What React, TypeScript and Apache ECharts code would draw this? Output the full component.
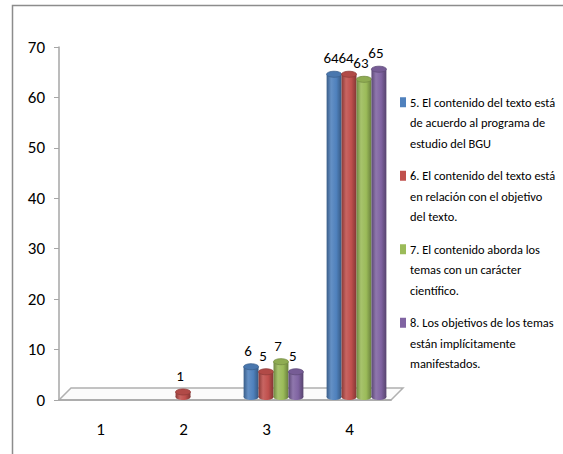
import React, { useEffect, useRef } from "react";
import * as echarts from "echarts";

const categories = ["1", "2", "3", "4"];
const seriesNames = [
  "5. El contenido del texto está de acuerdo al programa de estudio del BGU",
  "6. El contenido del texto está en relación con el objetivo del texto.",
  "7. El contenido aborda los temas con un carácter científico.",
  "8. Los objetivos de los temas están implícitamente manifestados.",
];
const legendLines = [
  ["5. El contenido del texto está", "de acuerdo al programa de", "estudio del BGU"],
  ["6. El contenido del texto está", "en relación con el objetivo", "del texto."],
  ["7. El contenido aborda los", "temas con un carácter", "científico."],
  ["8. Los objetivos de los temas", "están implícitamente", "manifestados."],
];
const s5 = [null, null, 6, 64];
const s6 = [null, 1, 5, 64];
const s7 = [null, null, 7, 63];
const s8 = [null, null, 5, 65];
const seriesValues = [s5, s6, s7, s8];
const colors = ["#4F81BD", "#C0504D", "#9BBB59", "#8064A2"];
const yTicks = { min: 0, max: 70, interval: 10 };

const FONT = "Carlito, 'Open Sans', sans-serif";

function shade(hex: string, f: number) {
  const n = parseInt(hex.slice(1), 16);
  let r = (n >> 16) & 255, g = (n >> 8) & 255, b = n & 255;
  const adj = (c: number) =>
    f >= 1 ? Math.round(c + (255 - c) * (f - 1)) : Math.round(c * f);
  r = adj(r); g = adj(g); b = adj(b);
  return `rgb(${r},${g},${b})`;
}

function makeBarSeries(idx: number) {
  const color = colors[idx];
  const data = seriesValues[idx]
    .map((v, i) => (v === null ? null : [i, v]))
    .filter((d) => d !== null);
  return {
    type: "custom",
    name: seriesNames[idx],
    z: 3,
    data,
    encode: { x: 0, y: 1 },
    itemStyle: { color },
    renderItem: (params: any, api: any) => {
      const cat = api.value(0);
      const val = api.value(1);
      const base = api.coord([cat, 0]);
      const top = api.coord([cat, val]);
      const catW = api.size([1, 0])[0];
      const bw = catW * 0.18;
      const dx = 7;
      const dy = -3;
      const x0 = base[0] - 2 * bw + idx * bw + dx;
      const yb = base[1] + dy;
      const yt = top[1] + dy;
      const ry = 3;
      const cx = x0 + bw / 2;
      const grad = new echarts.graphic.LinearGradient(0, 0, 1, 0, [
        { offset: 0, color: shade(color, 0.72) },
        { offset: 0.3, color: shade(color, 1.12) },
        { offset: 0.65, color: color },
        { offset: 1, color: shade(color, 0.68) },
      ]);
      return {
        type: "group",
        children: [
          {
            type: "ellipse",
            shape: { cx, cy: yb, rx: bw / 2, ry },
            style: { fill: grad },
          },
          {
            type: "rect",
            shape: { x: x0, y: yt, width: bw, height: Math.max(0, yb - yt) },
            style: { fill: grad },
          },
          {
            type: "ellipse",
            shape: { cx, cy: yt, rx: bw / 2, ry },
            style: { fill: shade(color, 0.92), stroke: shade(color, 0.75), lineWidth: 0.8 },
          },
          {
            type: "text",
            x: cx - 3,
            y: yt - 16,
            style: {
              text: String(val),
              fill: "#000",
              font: `15px ${FONT}`,
              align: "center",
              verticalAlign: "middle",
            },
          },
        ],
      };
    },
  };
}

const floorSeries = {
  type: "custom",
  name: "floor",
  z: 1,
  silent: true,
  data: [[0, 0]],
  encode: { x: 0, y: 1 },
  renderItem: (params: any, api: any) => {
    const catW = api.size([1, 0])[0];
    const p0 = api.coord([0, 0]);
    const xL = p0[0] - catW / 2;
    const xR = xL + categories.length * catW;
    const y0 = p0[1];
    const d = 12;
    return {
      type: "polygon",
      shape: {
        points: [
          [xL, y0],
          [xR, y0],
          [xR + d, y0 - d],
          [xL + d, y0 - d],
        ],
      },
      style: { fill: "#fbfbfb", stroke: "#b0b0b0", lineWidth: 1.5 },
    };
  },
};

export default function App() {
  const ref = useRef<HTMLDivElement>(null);
  useEffect(() => {
    const chart = echarts.init(ref.current!, null, { renderer: "svg" });
    const rich: any = {
      sp: { width: 4, height: 10 },
      ind: { width: 10, height: 10 },
      t: { fontSize: 12.4, fontFamily: FONT, color: "#000", lineHeight: 20.5 },
    };
    colors.forEach((c, i) => {
      rich["m" + i] = { width: 6, height: 10, backgroundColor: c };
    });
    chart.setOption({
      animation: false,
      backgroundColor: "#fff",
      grid: { left: 59, right: 172, top: 47, bottom: 54 },
      legend: {
        orient: "vertical",
        left: 390,
        top: 87,
        icon: "none",
        itemWidth: 0,
        itemHeight: 0,
        itemGap: 12,
        selectedMode: false,
        data: seriesNames,
        formatter: (name: string) => {
          const i = seriesNames.indexOf(name);
          return legendLines[i]
            .map((l, j) => (j === 0 ? `{m${i}|}{sp|}` : `{ind|}`) + `{t|${l}}`)
            .join("\n");
        },
        textStyle: { rich, fontFamily: FONT, fontSize: 12.4, lineHeight: 20.5 },
      },
      xAxis: {
        type: "category",
        data: categories,
        boundaryGap: true,
        axisLine: { lineStyle: { color: "#a6a6a6", width: 1.5 } },
        axisTick: { length: 6, lineStyle: { color: "#a6a6a6" } },
        axisLabel: { margin: 21, color: "#000", fontSize: 17, fontFamily: FONT },
        z: 2,
      },
      yAxis: {
        type: "value",
        min: yTicks.min,
        max: yTicks.max,
        interval: yTicks.interval,
        splitLine: { show: false },
        axisLine: { show: true, lineStyle: { color: "#a6a6a6", width: 1.5 } },
        axisTick: { show: true, length: 5, lineStyle: { color: "#a6a6a6" } },
        axisLabel: { margin: 14, color: "#000", fontSize: 17, fontFamily: FONT },
      },
      graphic: [
        {
          type: "rect",
          shape: { x: 12.5, y: 5.5, width: 600, height: 500 },
          style: { fill: "none", stroke: "#8c8c8c", lineWidth: 1.5 },
          silent: true,
        },
      ],
      series: [floorSeries, ...[0, 1, 2, 3].map(makeBarSeries)],
    });
    return () => chart.dispose();
  }, []);
  return (
    <div
      ref={ref}
      style={{ position: "absolute", left: 0, top: 0, width: 563, height: 454 }}
    />
  );
}
